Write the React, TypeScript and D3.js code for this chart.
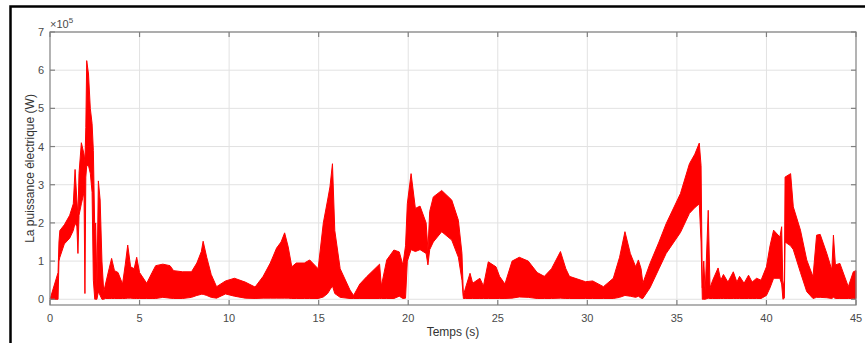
import React from "react";
import * as d3 from "d3";

// time samples (s) and the envelope of the power signal (x 1e5 W)
const times = [
  0, 0.45, 0.5, 0.55, 0.8, 1.1, 1.3, 1.4, 1.5, 1.56,
  1.62, 1.75, 1.9, 1.95, 2.0, 2.05, 2.15, 2.25, 2.35, 2.42,
  2.5, 2.55, 2.62, 2.7, 2.8, 2.9, 3.0, 3.1, 3.3, 3.44,
  3.6, 3.8, 4.05, 4.2, 4.34, 4.5, 4.7, 4.84, 5.0, 5.4,
  5.7, 5.9, 6.3, 6.7, 6.9, 7.4, 7.9, 8.2, 8.45, 8.55,
  8.75, 9.0, 9.3, 9.8, 10.3, 10.9, 11.45, 11.9, 12.3, 12.65,
  12.9, 13.1, 13.3, 13.5, 13.75, 14.2, 14.5, 14.97, 15.26, 15.5,
  15.63, 15.77, 15.9, 16.2, 16.75, 16.95, 17.3, 17.7, 18.4, 18.5,
  18.8, 19.2, 19.5, 19.7, 19.85, 19.95, 20.16, 20.4, 20.66, 21.0,
  21.1, 21.2, 21.4, 21.87, 22.43, 22.8, 23.0, 23.08, 23.2, 23.45,
  23.6, 24.0, 24.2, 24.47, 24.9, 25.1, 25.4, 25.8, 26.2, 26.7,
  27.2, 27.6, 28.0, 28.5, 28.8, 29.0, 29.9, 30.3, 30.9, 31.45,
  31.8, 32.1, 32.4, 32.7, 32.85, 33.0, 33.1, 33.5, 34.0, 34.4,
  35.2, 35.7, 36.0, 36.25, 36.35, 36.42, 36.5, 36.58, 36.75, 36.85,
  37.0, 37.3, 37.45, 37.6, 37.85, 38.15, 38.35, 38.5, 38.75, 39.0,
  39.2, 39.45, 39.7, 40.0, 40.2, 40.4,
  40.75, 40.85, 40.92, 41.0, 41.04, 41.35, 41.5, 41.9, 42.25, 42.6,
  42.8, 43.0, 43.37, 43.65, 43.74, 43.85, 44.1, 44.57, 44.85, 45.0,
];

const powerHigh = [
  0, 0.7, 1.5, 1.8, 1.95, 2.2, 2.5, 3.4, 2.6, 2.2,
  3.3, 4.1, 3.8, 3.6, 4.5, 6.25, 5.9, 5.0, 4.6, 3.9,
  1.8, 2.0, 0.3, 3.1, 2.6, 1.0, 0.2, 0.4, 0.8, 1.07,
  0.75, 0.7, 0.4, 0.9, 1.42, 0.85, 0.8, 1.1, 0.7, 0.42,
  0.7, 0.88, 0.92, 0.88, 0.75, 0.72, 0.72, 0.95, 1.25, 1.52,
  1.1, 0.65, 0.33, 0.48, 0.55, 0.45, 0.32, 0.6, 0.95, 1.34,
  1.5, 1.74, 1.37, 0.85, 0.95, 0.95, 1.03, 0.8, 2.0, 2.6,
  2.94, 3.55, 1.8, 0.8, 0.24, 0.1, 0.4, 0.6, 0.92, 0.35,
  1.03, 1.29, 1.24, 0.9, 1.4, 2.5, 3.29, 2.38, 2.44, 2.0,
  1.3, 2.3, 2.68, 2.85, 2.6, 2.07, 1.2, 0.1, 0.3, 0.68,
  0.42, 0.55, 0.35, 0.98, 0.85, 0.6, 0.4, 1.0, 1.1, 1.0,
  0.7, 0.6, 0.8, 1.25, 0.8, 0.6, 0.46, 0.48, 0.33, 0.55,
  1.1, 1.77, 1.2, 0.85, 1.03, 0.8, 0.42, 0.94, 1.5, 1.98,
  2.77, 3.55, 3.8, 4.09, 3.5, 0.3, 1.0, 0.2, 2.33, 0.3,
  0.5, 0.82, 0.5, 0.65, 0.45, 0.72, 0.45, 0.6, 0.42, 0.63,
  0.45, 0.55, 0.5, 0.85, 1.4, 1.81,
  1.63, 1.9, 0.3, 0.5, 3.2, 3.29, 2.42, 1.81, 1.03, 0.59,
  1.68, 1.7, 1.2, 0.77, 1.68, 0.9, 0.94, 0.33, 0.72, 0.75,
];

const powerLow = [
  0, 0, 1.0, 1.1, 1.45, 1.6, 1.8, 2.0, 1.9, 1.2,
  2.2, 2.5, 2.8, 0.15, 3.2, 3.5, 3.5, 3.3, 2.8, 0.5,
  0, 0, 0, 0.2, 0.1, 0, 0, 0.02, 0.02, 0.02,
  0.02, 0.02, 0.02, 0.02, 0.03, 0.03, 0.02, 0.02, 0.02, 0.02,
  0.02, 0.02, 0.05, 0.03, 0.02, 0.02, 0.05, 0.1, 0.13, 0.13,
  0.1, 0.05, 0.03, 0.14, 0.08, 0.03, 0.02, 0.03, 0.03, 0.03,
  0.03, 0.03, 0.03, 0.02, 0.02, 0.02, 0.02, 0.02, 0.06, 0.15,
  0.25, 0.35, 0.15, 0.05, 0.02, 0.02, 0.02, 0.02, 0.02, 0.02,
  0.02, 0.02, 0.08, 0.02, 0.03, 1.0, 1.3, 1.25, 1.3, 1.2,
  0.9, 1.3, 1.5, 1.77, 1.55, 1.1, 0.5, 0.02, 0.02, 0.02,
  0.02, 0.02, 0.02, 0.02, 0.02, 0.02, 0.02, 0.03, 0.06, 0.05,
  0.02, 0.02, 0.02, 0.03, 0.02, 0.02, 0.02, 0.02, 0.02, 0.02,
  0.05, 0.1, 0.08, 0.05, 0.08, 0.03, 0.02, 0.3, 0.8, 1.2,
  1.75, 2.25, 2.4, 2.5, 1.5, 0, 0, 0, 0.03, 0.02,
  0.02, 0.02, 0.02, 0.02, 0.02, 0.02, 0.02, 0.02, 0.02, 0.02,
  0.02, 0.02, 0.02, 0.1, 0.3, 0.55,
  0.55, 0.4, 0, 0.03, 1.5, 1.4, 1.3, 0.7, 0.2, 0.02,
  0.05, 0.05, 0.04, 0.02, 0.05, 0.02, 0.02, 0.02, 0.02, 0.02,
];

const xTicks = [0, 5, 10, 15, 20, 25, 30, 35, 40, 45];
const yTicks = [0, 1, 2, 3, 4, 5, 6, 7];

type Sample = { t: number; hi: number; lo: number };

export default function App() {
  const width = 865;
  const height = 343;
  const box = { left: 50, right: 856, top: 32, bottom: 305 };

  const x = d3.scaleLinear().domain([0, 45]).range([box.left, box.right]);
  const y = d3.scaleLinear().domain([-0.15, 7]).range([box.bottom, box.top]);

  const n = Math.min(times.length, powerHigh.length, powerLow.length);
  const samples: Sample[] = d3.range(n).map((i) => ({
    t: times[i],
    hi: powerHigh[i],
    lo: powerLow[i],
  }));

  const band = d3
    .area<Sample>()
    .x((d) => x(d.t))
    .y0((d) => y(d.lo))
    .y1((d) => y(d.hi));

  const font = "'Liberation Sans', Arial, sans-serif";
  const axisColor = "#808080";
  const textColor = "#4a4a4a";

  return (
    <svg
      width={width}
      height={height}
      style={{ position: "absolute", left: 0, top: 0, background: "#fff" }}
      fontFamily={font}
    >
      {/* outer frame of the figure */}
      <rect x={10.5} y={6.5} width={900} height={400} fill="none" stroke="#000" strokeWidth={2.5} />

      {/* grid */}
      <g stroke="#e2e2e2" strokeWidth={1}>
        {xTicks.slice(1, -1).map((t) => (
          <line key={"gx" + t} x1={x(t)} x2={x(t)} y1={box.top} y2={box.bottom} />
        ))}
        {yTicks.map((v) => (
          <line key={"gy" + v} x1={box.left} x2={box.right} y1={y(v)} y2={y(v)} />
        ))}
      </g>

      {/* signal */}
      <path d={band(samples) ?? ""} fill="#ff0000" stroke="#ff0000" strokeWidth={1} strokeLinejoin="round" />

      {/* axes box and ticks */}
      <rect
        x={box.left}
        y={box.top}
        width={box.right - box.left}
        height={box.bottom - box.top}
        fill="none"
        stroke={axisColor}
        strokeWidth={1.2}
      />
      <g stroke={axisColor} strokeWidth={1.2}>
        {xTicks.map((t) => (
          <g key={"tx" + t}>
            <line x1={x(t)} x2={x(t)} y1={box.bottom} y2={box.bottom - 5} />
            <line x1={x(t)} x2={x(t)} y1={box.top} y2={box.top + 5} />
          </g>
        ))}
        {yTicks.map((v) => (
          <g key={"ty" + v}>
            <line x1={box.left} x2={box.left + 5} y1={y(v)} y2={y(v)} />
            <line x1={box.right} x2={box.right - 5} y1={y(v)} y2={y(v)} />
          </g>
        ))}
      </g>

      {/* tick labels */}
      <g fill={textColor} fontSize={11}>
        {xTicks.map((t) => (
          <text key={"lx" + t} x={x(t)} y={box.bottom + 17} textAnchor="middle">
            {t}
          </text>
        ))}
        {yTicks.map((v) => (
          <text key={"ly" + v} x={box.left - 6} y={y(v) + 4} textAnchor="end">
            {v}
          </text>
        ))}
      </g>

      {/* exponent */}
      <text x={box.left} y={box.top - 4} fill={textColor} fontSize={11}>
        ×10
        <tspan fontSize={8} dy={-5}>
          5
        </tspan>
      </text>

      {/* axis titles */}
      <text x={(box.left + box.right) / 2} y={336} textAnchor="middle" fill="#333" fontSize={12}>
        Temps (s)
      </text>
      <text
        transform={`translate(34, ${(box.top + box.bottom) / 2}) rotate(-90)`}
        textAnchor="middle"
        fill="#333"
        fontSize={12}
      >
        La puissance électrique (W)
      </text>
    </svg>
  );
}
